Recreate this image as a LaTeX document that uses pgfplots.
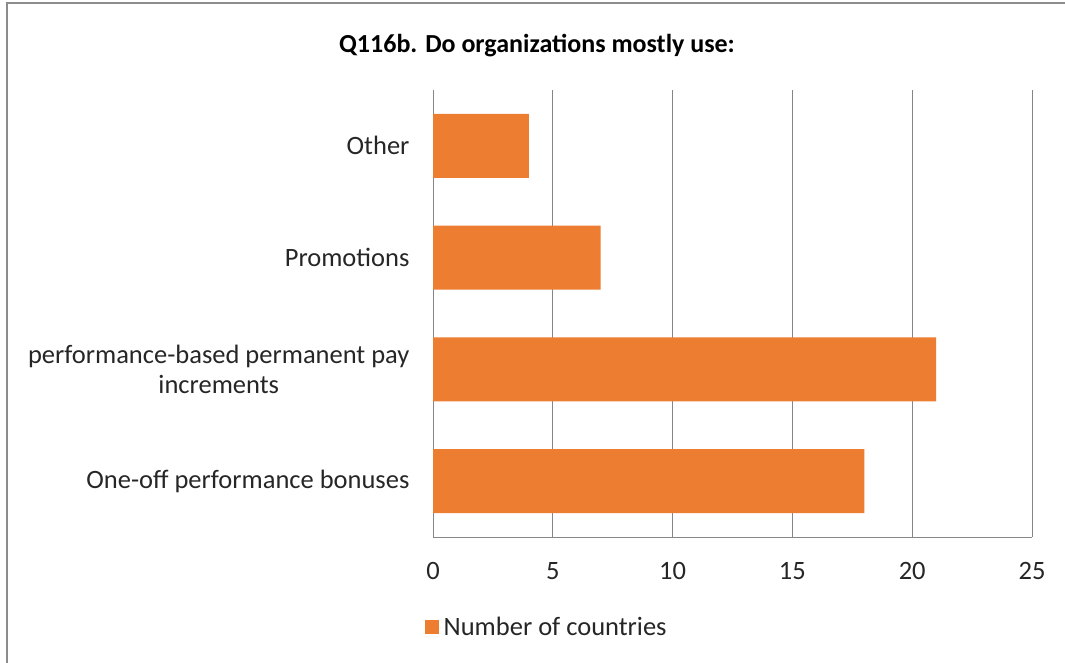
\documentclass[border=0pt]{standalone}
\usepackage{pgfplots}
\pgfplotsset{compat=1.18}
\usepackage{fontspec}
\setmainfont{Carlito}
\definecolor{barorange}{HTML}{ED7D31}
\definecolor{gridgray}{HTML}{868686}
\definecolor{framegray}{HTML}{8C8C8C}
\definecolor{txt}{HTML}{262626}
\begin{document}
\begin{tikzpicture}[x=1pt,y=1pt]
  \path[use as bounding box] (0,0) rectangle (1065,663);
  \draw[framegray, line width=1.2pt] (7,0) -- (7,660) -- (1065,660);
  \node[font=\fontsize{26}{31}\selectfont\bfseries, text=black] at (537,617) {Q116b. Do organizations mostly use:};
  \begin{axis}[
      at={(433pt,126pt)}, anchor=south west,
      scale only axis,
      width=599pt, height=447pt,
      xbar, bar width=64pt,
      xmin=0, xmax=25,
      ymin=0.5, ymax=4.5,
      xtick={0,5,...,25},
      ytick={1,2,3,4},
      yticklabels={One-off performance bonuses, {performance-based permanent pay\\increments}, Promotions, Other},
      yticklabel style={align=center, font=\fontsize{26.5}{30}\selectfont, text=txt, xshift=-20pt},
      xticklabel style={font=\fontsize{26.5}{30}\selectfont, text=txt, yshift=-22pt},
      /pgf/number format/assume math mode=true,
      major tick length=0pt,
      xmajorgrids, grid style={gridgray, line width=0.8pt},
      axis x line*=bottom, axis y line*=left,
      axis line style={gridgray, line width=0.8pt},
      legend style={at={(0,-0.17)}, anchor=north west, xshift=-11pt, draw=none,
                    font=\fontsize{26.5}{30}\selectfont, text=txt},
      legend image code/.code={\fill[barorange] (0cm,-0.23cm) rectangle (0.5cm,0.26cm);
                               \path (0.5cm,0) -- (0.58cm,0);},
    ]
    \addplot[fill=barorange, draw=none] coordinates {(18,1) (21,2) (7,3) (4,4)};
    \addlegendentry{Number of countries}
  \end{axis}
\end{tikzpicture}
\end{document}
